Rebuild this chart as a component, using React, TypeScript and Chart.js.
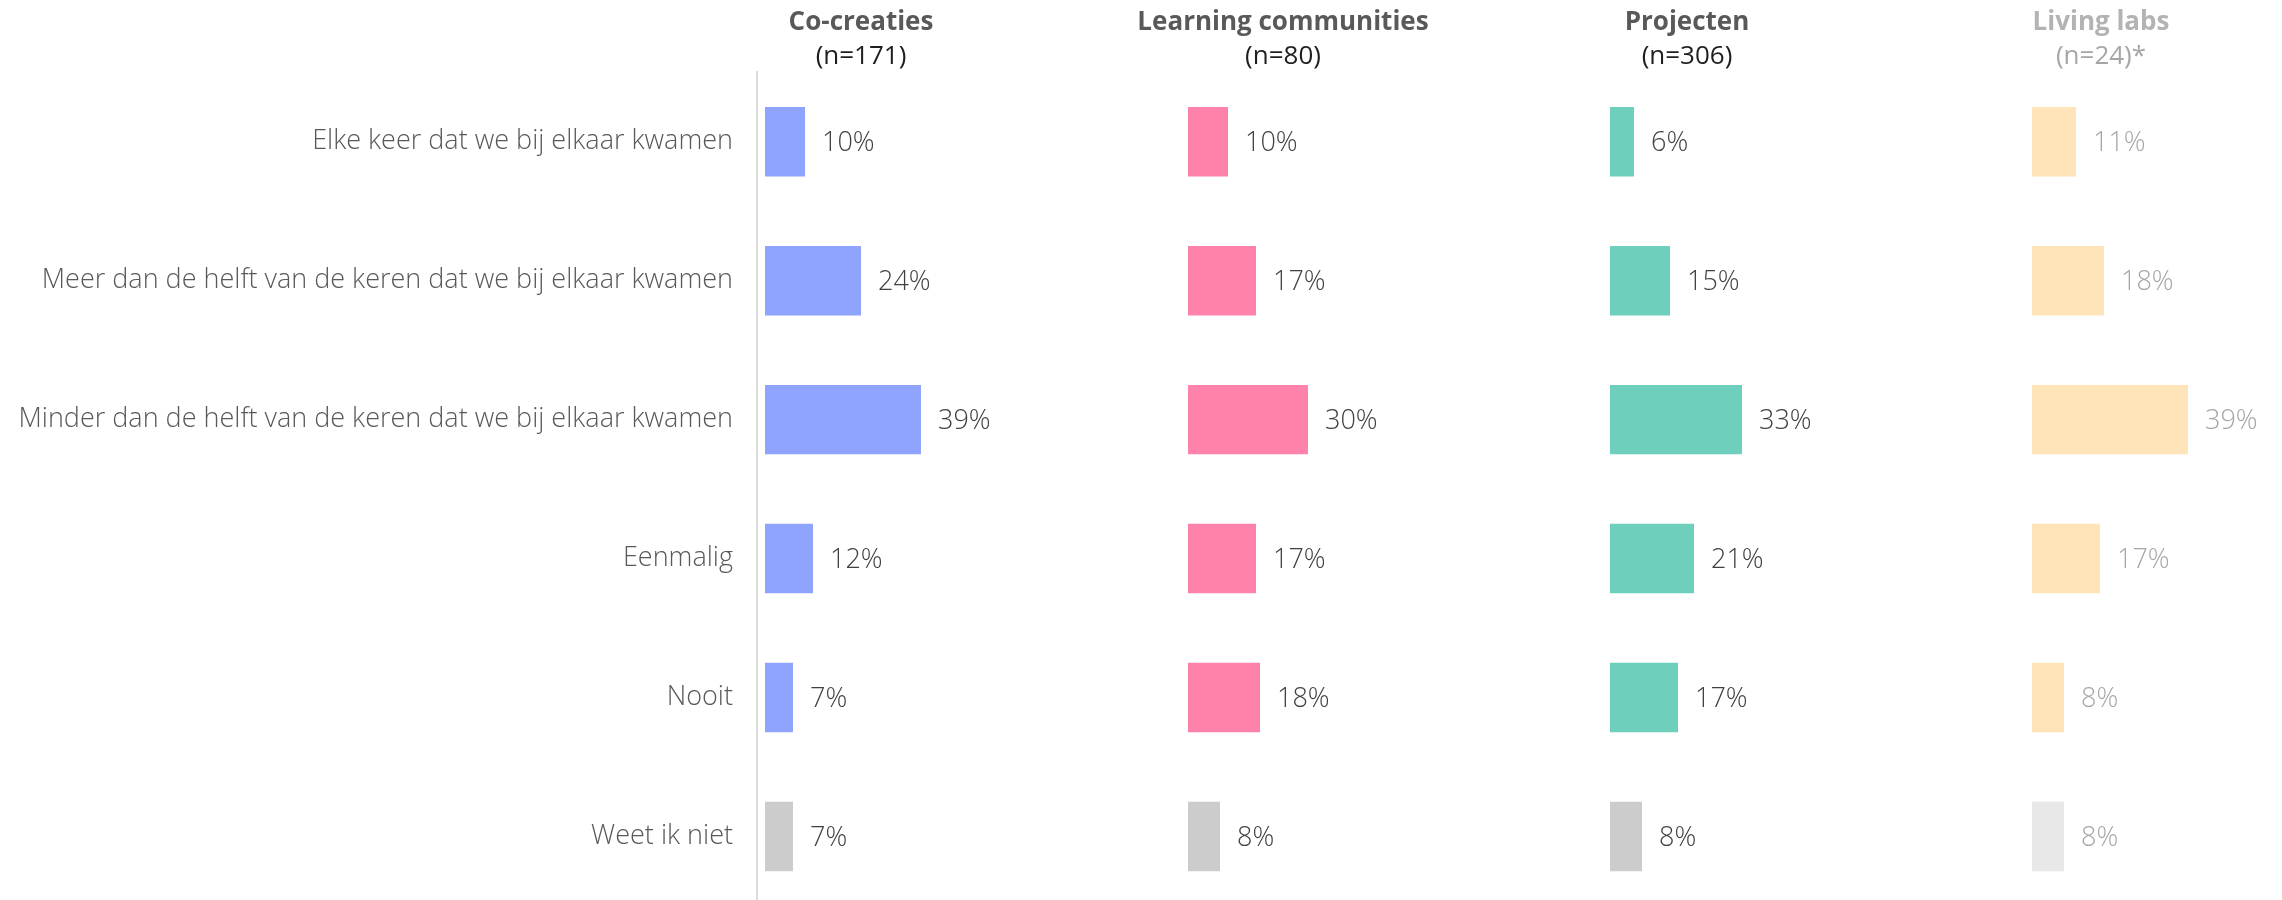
import React, { useEffect, useRef } from "react";
import { Chart, registerables } from "chart.js";

Chart.register(...registerables);

const categories = [
  "Elke keer dat we bij elkaar kwamen",
  "Meer dan de helft van de keren dat we bij elkaar kwamen",
  "Minder dan de helft van de keren dat we bij elkaar kwamen",
  "Eenmalig",
  "Nooit",
  "Weet ik niet",
];

const panelTitles = ["Co-creaties", "Learning communities", "Projecten", "Living labs"];
const panelSubtitles = ["(n=171)", "(n=80)", "(n=306)", "(n=24)*"];

const coCreaties = [10, 24, 39, 12, 7, 7];
const learningCommunities = [10, 17, 30, 17, 18, 8];
const projecten = [6, 15, 33, 21, 17, 8];
const livingLabs = [11, 18, 39, 17, 8, 8];

const seriesValues = [coCreaties, learningCommunities, projecten, livingLabs];

const mainColors = ["#8fa4ff", "#ff82aa", "#6ecfbc", "#ffe3b9"];
const otherColors = ["#cccccc", "#cccccc", "#cccccc", "#e8e8e8"];
const titleColors = ["#595959", "#595959", "#595959", "#b3b3b3"];
const subtitleColors = ["#1f1f1f", "#1f1f1f", "#1f1f1f", "#a6a6a6"];
const valueColors = ["#404040", "#404040", "#404040", "#a6a6a6"];

// canvas placement per panel (layout only): 4 px per percent point in every panel
const panelLayout = [
  { left: 0, width: 1115, axisWidth: 757, padRight: 150, titleFull: false, xMax: 50 },
  { left: 1123, width: 320, axisWidth: 57, padRight: 0, titleFull: true, xMax: 63.75 },
  { left: 1527, width: 320, axisWidth: 75, padRight: 0, titleFull: true, xMax: 59.25 },
  { left: 1941, width: 320, axisWidth: 83, padRight: 0, titleFull: true, xMax: 57.25 },
];

const FONT = "'Open Sans', Lato, sans-serif";

const valueLabelPlugin = {
  id: "valueLabels",
  afterDatasetsDraw(chart: any, _args: any, opts: any) {
    const { ctx } = chart;
    const meta = chart.getDatasetMeta(0);
    const data = chart.data.datasets[0].data;
    ctx.save();
    ctx.font = `300 27px ${FONT}`;
    ctx.fillStyle = opts.color;
    ctx.textAlign = "left";
    ctx.textBaseline = "middle";
    meta.data.forEach((bar: any, i: number) => {
      ctx.fillText(`${data[i]}%`, bar.x + 17, bar.y + 2);
    });
    ctx.restore();
  },
};

function Panel({ idx }: { idx: number }) {
  const ref = useRef<HTMLCanvasElement>(null);
  useEffect(() => {
    const lay = panelLayout[idx];
    const values = seriesValues[idx];
    const colors = values.map((_, i) => (i === values.length - 1 ? otherColors[idx] : mainColors[idx]));
    const chart = new Chart(ref.current!, {
      type: "bar",
      data: {
        labels: categories,
        datasets: [
          {
            data: values,
            backgroundColor: colors,
            borderWidth: 0,
            barPercentage: 0.5,
            categoryPercentage: 1,
          },
        ],
      },
      plugins: [valueLabelPlugin],
      options: {
        indexAxis: "y",
        responsive: false,
        animation: false,
        layout: { autoPadding: false, padding: { left: 0, right: lay.padRight, top: 0, bottom: 0 } },
        plugins: {
          legend: { display: false },
          tooltip: { enabled: false },
          title: {
            display: true,
            fullSize: lay.titleFull,
            text: panelTitles[idx],
            color: titleColors[idx],
            font: { family: FONT, size: 26, weight: "bold", lineHeight: 1.1 },
            padding: { top: 8, bottom: 0 },
          },
          subtitle: {
            display: true,
            fullSize: lay.titleFull,
            text: panelSubtitles[idx],
            color: subtitleColors[idx],
            font: { family: FONT, size: 26, weight: "normal", lineHeight: 1.1 },
            padding: { top: 6, bottom: 1 },
          },
          valueLabels: { color: valueColors[idx] },
        } as any,
        scales: {
          x: {
            display: false,
            min: -2,
            max: lay.xMax,
          },
          y: {
            display: true,
            grid: { display: false, drawTicks: false },
            border: { display: idx === 0, color: "#dcdcdc", width: 2 },
            ticks: {
              display: idx === 0,
              color: "#595959",
              font: { family: FONT, size: 27, weight: "300" },
              padding: 24,
            },
            afterFit: (scale: any) => {
              scale.width = lay.axisWidth;
              scale.paddingTop = 0;
              scale.paddingBottom = 0;
            },
          },
        },
      },
    });
    return () => chart.destroy();
  }, [idx]);
  const lay = panelLayout[idx];
  return (
    <canvas
      ref={ref}
      width={lay.width}
      height={906}
      style={{ position: "absolute", left: lay.left, top: 0, width: lay.width, height: 906 }}
    />
  );
}

export default function App() {
  return (
    <div style={{ position: "absolute", left: 0, top: 0, width: 2282, height: 900, background: "#fff", overflow: "hidden" }}>
      {panelTitles.map((_, i) => (
        <Panel key={i} idx={i} />
      ))}
    </div>
  );
}
